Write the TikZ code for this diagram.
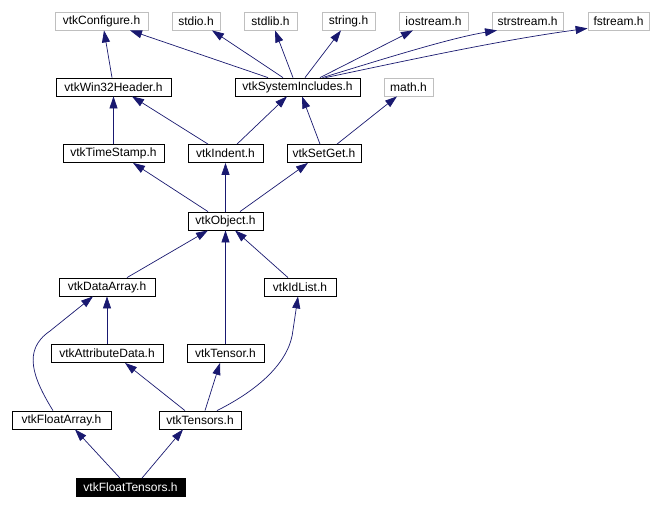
\documentclass[tikz,border=0pt]{standalone}
\usepackage{fontspec}
\setmainfont{Liberation Sans}
\usetikzlibrary{arrows.meta}
\definecolor{navy}{HTML}{191970}
\definecolor{extgray}{HTML}{BFBFBF}
\tikzset{
  hdr/.style={draw=black, line width=0.8pt, minimum height=18pt, inner sep=0pt, font=\fontsize{12}{13}\selectfont},
  ext/.style={hdr, draw=extgray},
  cur/.style={hdr, fill=black, text=white},
  dep/.style={draw=navy, line width=0.7pt, -{Triangle[length=12pt,width=8pt]}}
}
\begin{document}
\begin{tikzpicture}[x=1pt,y=-1pt]
\useasboundingbox[fill=white] (0,0) rectangle (652,509);
% row 1
\node[ext, minimum width=93pt] (conf) at (101.5,21) {vtkConfigure.h};
\node[ext, minimum width=48pt] (stdio) at (196,21) {stdio.h};
\node[ext, minimum width=53pt] (stdlib) at (270.5,21) {stdlib.h};
\node[ext, minimum width=53pt] (string) at (348.5,21) {string.h};
\node[ext, minimum width=69pt] (iostream) at (433.5,21) {iostream.h};
\node[ext, minimum width=71pt] (strstream) at (527.5,21) {strstream.h};
\node[ext, minimum width=61pt] (fstream) at (618.5,21) {fstream.h};
% row 2
\node[hdr, minimum width=115pt] (win32) at (113.5,87) {vtkWin32Header.h};
\node[hdr, minimum width=125pt] (sysinc) at (297.5,87) {vtkSystemIncludes.h};
\node[ext, minimum width=49pt] (math) at (408.5,87) {math.h};
% row 3
\node[hdr, minimum width=101pt] (timestamp) at (113.5,153.5) {vtkTimeStamp.h};
\node[hdr, minimum width=75pt] (indent) at (225.5,153.5) {vtkIndent.h};
\node[hdr, minimum width=74pt] (setget) at (324,153.5) {vtkSetGet.h};
% row 4
\node[hdr, minimum width=75pt] (object) at (225.5,221) {vtkObject.h};
% row 5
\node[hdr, minimum width=96pt] (dataarray) at (107,287) {vtkDataArray.h};
\node[hdr, minimum width=72pt] (idlist) at (300,287) {vtkIdList.h};
% row 6
\node[hdr, minimum width=112pt] (attrdata) at (107,353.5) {vtkAttributeData.h};
\node[hdr, minimum width=77pt] (tensor) at (225.5,353.5) {vtkTensor.h};
% row 7
\node[hdr, minimum width=99pt] (floatarray) at (61.5,420) {vtkFloatArray.h};
\node[hdr, minimum width=82pt] (tensors) at (200,420) {vtkTensors.h};
% row 8
\node[cur, minimum width=109pt] (floattensors) at (130.5,487.5) {vtkFloatTensors.h};
% edges
\draw[dep] ([xshift=-1.5pt]win32.north) -- ([xshift=2.5pt]conf.south);
\draw[dep] ([xshift=-29.5pt]sysinc.north) -- ([xshift=28.5pt]conf.south);
\draw[dep] ([xshift=-14.5pt]sysinc.north) -- ([xshift=16pt]stdio.south);
\draw[dep] ([xshift=-4.5pt]sysinc.north) -- ([xshift=4.5pt]stdlib.south);
\draw[dep] ([xshift=7.5pt]sysinc.north) -- ([xshift=-7.5pt]string.south);
\draw[dep] ([xshift=22.5pt]sysinc.north) -- ([xshift=-20.5pt]iostream.south);
\draw[dep] ([xshift=25pt]sysinc.north) .. controls (380,60) and (450,38) .. ([xshift=-30.5pt]strstream.south);
\draw[dep] ([xshift=28pt]sysinc.north) .. controls (400,62) and (500,40) .. ([yshift=2pt]fstream.south west);
\draw[dep] (timestamp.north) -- (win32.south);
\draw[dep] ([xshift=-17.5pt]indent.north) -- ([xshift=18.5pt]win32.south);
\draw[dep] ([xshift=11.5pt]indent.north) -- ([xshift=-10.5pt]sysinc.south);
\draw[dep] ([xshift=-4pt]setget.north) -- ([xshift=4.5pt]sysinc.south);
\draw[dep] ([xshift=13pt]setget.north) -- ([xshift=-11.5pt]math.south);
\draw[dep] ([xshift=-17.5pt]object.north) -- ([xshift=19.5pt]timestamp.south);
\draw[dep] (object.north) -- (indent.south);
\draw[dep] ([xshift=14.5pt]object.north) -- ([xshift=-16pt]setget.south);
\draw[dep] ([xshift=20pt]dataarray.north) -- ([xshift=-17.5pt]object.south);
\draw[dep] (tensor.north) -- (object.south);
\draw[dep] ([xshift=-12pt]idlist.north) -- ([xshift=9.5pt]object.south);
\draw[dep] (attrdata.north) -- (dataarray.south);
\draw[dep] ([xshift=-8.5pt]floatarray.north) .. controls (33,378) and (22,350) .. (50,331) -- ([xshift=-14pt]dataarray.south);
\draw[dep] ([xshift=-15pt]tensors.north) -- ([xshift=18pt]attrdata.south);
\draw[dep] ([xshift=5pt]tensors.north) -- ([xshift=-5.5pt]tensor.south);
\draw[dep] ([xshift=17pt]tensors.north) .. controls (262,388) and (290,360) .. (293,330) -- ([xshift=-2pt]idlist.south);
\draw[dep] ([xshift=-10.5pt]floattensors.north) -- ([xshift=13.5pt]floatarray.south);
\draw[dep] ([xshift=11.5pt]floattensors.north) -- ([xshift=-17pt]tensors.south);
\end{tikzpicture}
\end{document}
